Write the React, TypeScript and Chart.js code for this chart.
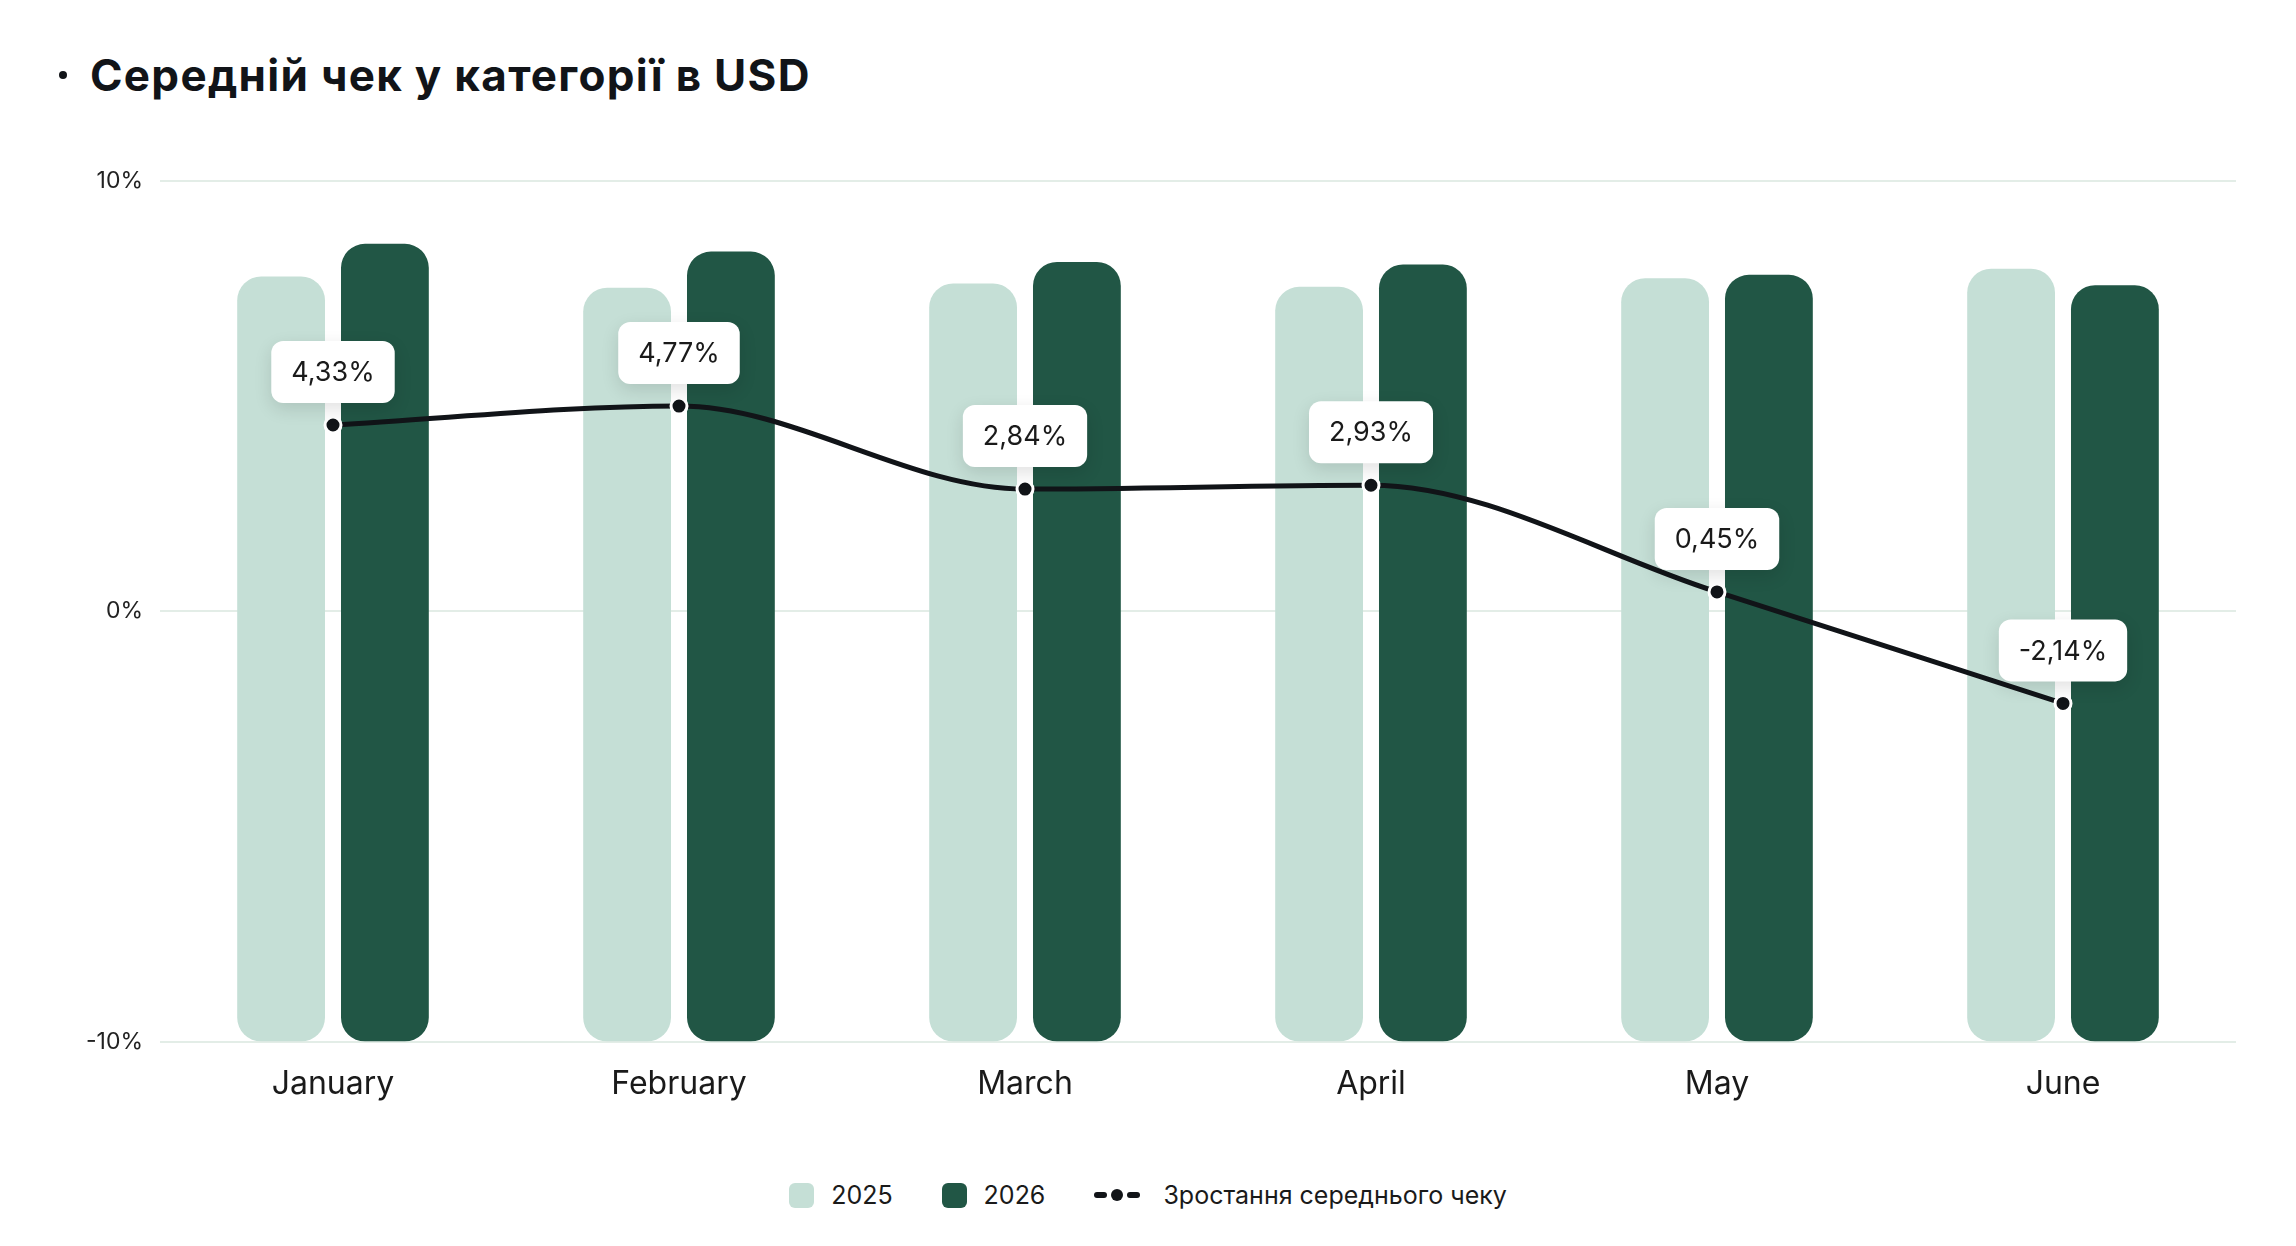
import React, { useEffect, useRef } from 'react';
import Chart from 'chart.js/auto';

const months = ['January', 'February', 'March', 'April', 'May', 'June'];
// average check (hidden axis, 0..100)
const check2025 = [88.9, 87.6, 88.1, 87.7, 88.7, 89.8];
const check2026 = [92.7, 91.8, 90.6, 90.3, 89.1, 87.9];
// growth of the average check, %
const growth = [4.33, 4.77, 2.84, 2.93, 0.45, -2.14];
const growthTicks = [-10, 0, 10];

const LIGHT = '#c5dfd6';
const DARK = '#215645';
const INK = '#111418';
const FONT = 'Inter, "Open Sans", sans-serif';

const fmt = (v: number) => v.toFixed(2).replace('.', ',') + '%';

// white rounded boxes with the growth value above every point
const pointLabels = {
  id: 'pointLabels',
  afterDatasetsDraw(chart: any) {
    const meta = chart.getDatasetMeta(2);
    const ctx = chart.ctx;
    ctx.save();
    ctx.font = `27px ${FONT}`;
    ctx.textAlign = 'center';
    ctx.textBaseline = 'middle';
    meta.data.forEach((pt: any, i: number) => {
      const text = fmt(growth[i]);
      const w = ctx.measureText(text).width + 40;
      const h = 62;
      const x = pt.x - w / 2;
      const y = pt.y - 22 - h;
      ctx.save();
      ctx.shadowColor = 'rgba(0, 0, 0, 0.12)';
      ctx.shadowBlur = 18;
      ctx.shadowOffsetY = 6;
      ctx.fillStyle = '#fff';
      ctx.beginPath();
      ctx.roundRect(x, y, w, h, 12);
      ctx.fill();
      ctx.restore();
      ctx.fillStyle = '#1a1a1a';
      ctx.fillText(text, pt.x, y + h / 2 + 1);
    });
    ctx.restore();
  },
};

const AvgCheckChart: React.FC = () => {
  const chartRef = useRef<HTMLCanvasElement>(null);

  useEffect(() => {
    if (!chartRef.current) return;
    const myChart = new Chart(chartRef.current, {
      type: 'bar',
      data: {
        labels: months,
        datasets: [
          {
            type: 'bar',
            label: '2025',
            data: check2025,
            backgroundColor: LIGHT,
            yAxisID: 'usd',
            borderRadius: 24,
            borderSkipped: false,
            categoryPercentage: 0.6,
            barPercentage: 0.846,
            order: 1,
          },
          {
            type: 'bar',
            label: '2026',
            data: check2026,
            backgroundColor: DARK,
            yAxisID: 'usd',
            borderRadius: 24,
            borderSkipped: false,
            categoryPercentage: 0.6,
            barPercentage: 0.846,
            order: 1,
          },
          {
            type: 'line',
            label: 'Зростання середнього чеку',
            data: growth,
            yAxisID: 'y',
            borderColor: INK,
            borderWidth: 5,
            cubicInterpolationMode: 'monotone',
            pointRadius: 8,
            pointBorderWidth: 3,
            pointBackgroundColor: INK,
            pointBorderColor: '#fff',
            order: 0,
          },
        ] as any,
      },
      options: {
        animation: false,
        responsive: true,
        maintainAspectRatio: false,
        layout: { padding: { top: 173, right: 52, bottom: 27, left: 0 } },
        plugins: {
          legend: { display: false },
          tooltip: { enabled: false },
        },
        scales: {
          x: {
            grid: { display: false },
            border: { display: false },
            ticks: {
              color: '#1a1a1a',
              padding: 16,
              font: { family: FONT, size: 32 },
            },
          },
          y: {
            min: -10,
            max: 10,
            afterBuildTicks: (scale: any) => {
              scale.ticks = growthTicks.map((v) => ({ value: v }));
            },
            afterFit: (scale: any) => {
              scale.width = 152;
            },
            grid: { color: '#e3ede7', lineWidth: 2, drawTicks: false },
            border: { display: false },
            ticks: {
              padding: 17,
              color: '#222',
              font: { family: FONT, size: 23 },
              callback: (v: any) => v + '%',
            },
          },
          usd: {
            axis: 'y',
            position: 'right',
            display: false,
            min: 0,
            max: 100,
          },
        } as any,
      },
      plugins: [pointLabels],
    });

    return () => {
      myChart.destroy();
    };
  }, []);

  return <canvas ref={chartRef} />;
};

const LegendItem: React.FC<{ color: string; text: string }> = ({ color, text }) => (
  <div style={{ display: 'flex', alignItems: 'center', marginRight: 49 }}>
    <span style={{ width: 25, height: 25, borderRadius: 6, background: color, marginRight: 17 }} />
    <span>{text}</span>
  </div>
);

const App: React.FC = () => {
  return (
    <div style={{ position: 'relative', width: 2280, height: 1230, fontFamily: FONT, background: '#fff' }}>
      <span
        style={{ position: 'absolute', left: 51, top: 63, width: 8, height: 8, borderRadius: 4, background: INK }}
      />
      <div
        style={{
          position: 'absolute',
          left: 82,
          top: 45,
          fontSize: 44,
          lineHeight: '44px',
          fontWeight: 700,
          letterSpacing: 1.3,
          color: INK,
          whiteSpace: 'nowrap',
        }}
      >
        Середній чек у категорії в USD
      </div>
      <div style={{ position: 'absolute', left: 0, top: 0, width: 2280, height: 1139 }}>
        <AvgCheckChart />
      </div>
      <div
        style={{
          position: 'absolute',
          left: 0,
          top: 1172,
          width: 2280,
          height: 30,
          display: 'flex',
          alignItems: 'center',
          justifyContent: 'center',
          fontSize: 25,
          color: '#1a1a1a',
        }}
      >
        <LegendItem color={LIGHT} text="2025" />
        <LegendItem color={DARK} text="2026" />
        <div style={{ display: 'flex', alignItems: 'center' }}>
          <span style={{ position: 'relative', width: 46, height: 14, marginRight: 23 }}>
            <span style={{ position: 'absolute', left: 0, top: 4, width: 13, height: 6, borderRadius: 3, background: INK }} />
            <span style={{ position: 'absolute', left: 17, top: 1, width: 12, height: 12, borderRadius: 6, background: INK }} />
            <span style={{ position: 'absolute', left: 33, top: 4, width: 13, height: 6, borderRadius: 3, background: INK }} />
          </span>
          <span>Зростання середнього чеку</span>
        </div>
      </div>
    </div>
  );
};

export default App;
